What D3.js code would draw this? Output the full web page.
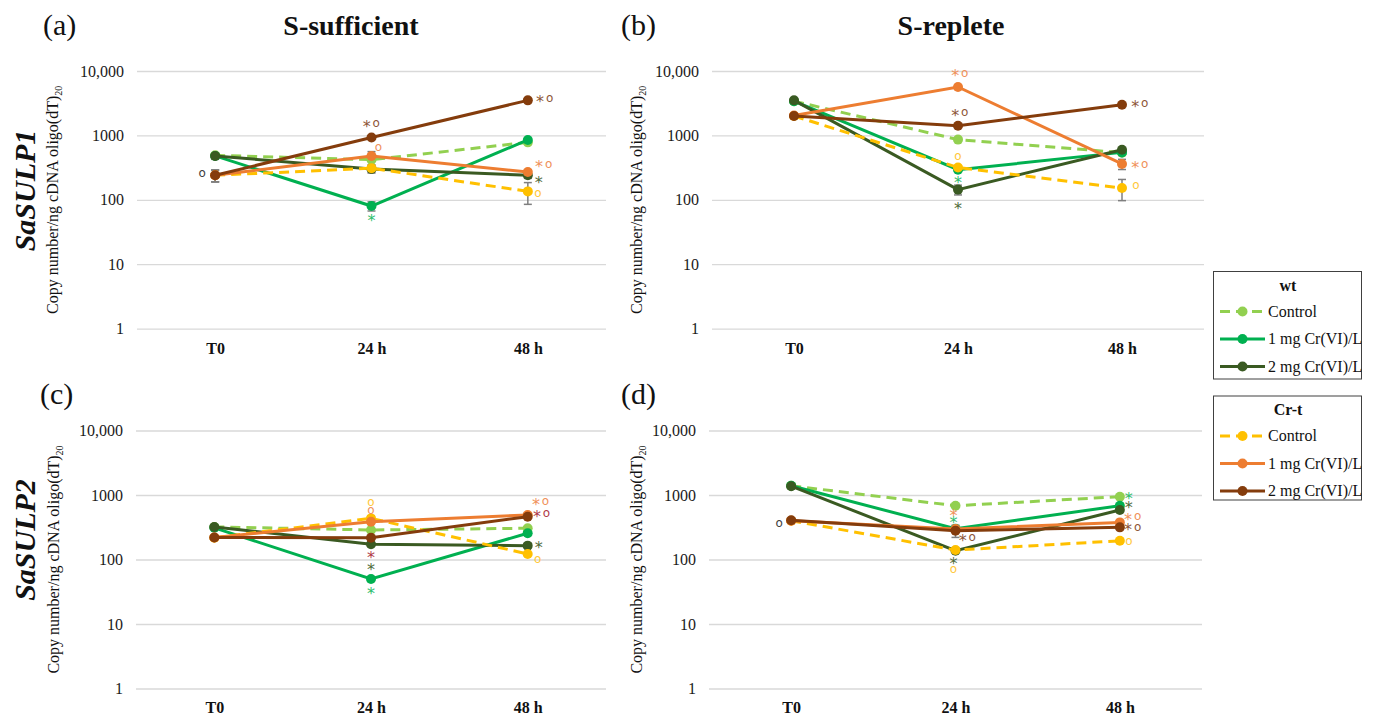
<!DOCTYPE html>
<html>
<head>
<meta charset="utf-8">
<style>
  body { margin: 0; background: #fff; }
  svg, svg text { font-family: "Liberation Serif", "Times New Roman", serif; }
  svg text.mark { font-family: "DejaVu Sans", sans-serif; }
</style>
</head>
<body>
<svg></svg>
<script src="https://d3js.org/d3.v7.min.js"></script>
<script>
const width = 1373;
const height = 718;

const timeLabels = ["T0", "24 h", "48 h"];
const yTickValues = [1, 10, 100, 1000, 10000];
const strainLabels = ["wt", "Cr-t"];
const doseLabels = ["Control", "1 mg Cr(VI)/L", "2 mg Cr(VI)/L"];
const conditionTitles = ["S-sufficient", "S-replete"];
const geneLabels = ["SaSULP1", "SaSULP2"];
const panelLetters = ["(a)", "(b)", "(c)", "(d)"];

// series order: wt Control, wt 1 mg, wt 2 mg, Cr-t Control, Cr-t 1 mg, Cr-t 2 mg
const sulp1Sufficient = [[490, 420, 780], [480, 80, 850], [480, 300, 240], [240, 310, 135], [240, 480, 270], [240, 930, 3500]];
const sulp1Replete = [[3400, 860, 540], [3400, 293, 545], [3500, 144, 600], [2000, 318, 152], [2040, 5650, 360], [2000, 1410, 3000]];
const sulp2Sufficient = [[320, 287, 305], [310, 50, 255], [320, 172, 164], [218, 434, 122], [220, 386, 490], [220, 218, 461]];
const sulp2Replete = [[1390, 682, 942], [1390, 300, 682], [1370, 137, 585], [400, 140, 195], [400, 297, 376], [405, 280, 315]];

// standard deviations (0 = no visible bar)
const sulp1SufficientErr = [[0, 0, 0], [0, 13, 0], [55, 40, 25], [50, 40, 50], [50, 80, 20], [50, 0, 0]];
const sulp1RepleteErr = [[0, 0, 0], [0, 0, 0], [0, 25, 0], [0, 0, 55], [0, 0, 65], [0, 0, 0]];
const sulp2SufficientErr = [[0, 0, 0], [0, 0, 0], [0, 0, 15], [0, 40, 0], [0, 0, 40], [0, 0, 0]];
const sulp2RepleteErr = [[0, 0, 0], [0, 0, 0], [0, 0, 0], [0, 0, 0], [0, 0, 0], [0, 60, 0]];

// significance marks: [colour key, time index, value, text, dx]
const sulp1SufficientNotes = [
  [6, 0, 258, "o", -13], [5, 1, 1540, "*o", 0], [4, 1, 668, "o", 7], [1, 1, 53, "*", 0],
  [5, 2, 3800, "*o", 17], [4, 2, 360, "*o", 16], [2, 2, 210, "*", 11], [3, 2, 129, "o", 10]
];
const sulp1RepleteNotes = [
  [4, 1, 9400, "*o", 2], [5, 1, 2290, "*o", 2], [3, 1, 484, "o", 0], [1, 1, 208, "*", 0],
  [2, 1, 81, "*", 0], [5, 2, 3150, "*o", 18], [4, 2, 356, "*o", 18], [3, 2, 170, "o", 14]
];
const sulp2SufficientNotes = [
  [3, 1, 771, "o", 0], [4, 1, 585, "o", 0], [7, 1, 120, "*", 0], [2, 1, 79, "*", 0],
  [1, 1, 33, "*", 0], [4, 2, 807, "*o", 13], [7, 2, 520, "*o", 14], [2, 2, 168, "*", 11],
  [3, 2, 101, "o", 10]
];
const sulp2RepleteNotes = [
  [6, 0, 364, "o", -12], [4, 1, 532, "*", -2], [1, 1, 420, "*", -2], [5, 1, 221, "*o", 12],
  [2, 1, 98, "*", -2], [3, 1, 70, "o", -2], [1, 2, 965, "*", 9], [2, 2, 700, "*", 9],
  [4, 2, 472, "*o", 13], [5, 2, 323, "*o", 13], [3, 2, 196, "o", 9]
];

const lineColors = ["#92D050", "#00B050", "#3A5A22", "#FFC000", "#ED7D31", "#843C0C"];
const noteColors = ["#92D050", "#2DBE6C", "#4F6B3A", "#FFC83A", "#F0915A", "#8E5638", "#404040", "#B03A48"];
const dashed = [true, false, false, true, false, false];

const svg = d3.select("svg").attr("width", width).attr("height", height);

const panels = [
  { values: sulp1Sufficient, err: sulp1SufficientErr, notes: sulp1SufficientNotes,
    x0: 137, x1: 606, yTop: 71, yBot: 328.6, letterX: 43, letterY: 35, titleX: 58, pad: 14 },
  { values: sulp1Replete, err: sulp1RepleteErr, notes: sulp1RepleteNotes,
    x0: 712, x1: 1204, yTop: 71, yBot: 328.6, letterX: 621, letterY: 35, titleX: 642, pad: 14 },
  { values: sulp2Sufficient, err: sulp2SufficientErr, notes: sulp2SufficientNotes,
    x0: 136, x1: 606, yTop: 430.5, yBot: 688.5, letterX: 40, letterY: 404, titleX: 59, pad: 13 },
  { values: sulp2Replete, err: sulp2RepleteErr, notes: sulp2RepleteNotes,
    x0: 709, x1: 1202, yTop: 430.5, yBot: 688.5, letterX: 621, letterY: 404, titleX: 642, pad: 13 }
];

panels.forEach((p, i) => drawPanel(p, i));
drawHeaders();
drawLegend(0, 271.5, 379);
drawLegend(1, 396, 500);

function drawPanel(p, idx) {
  const g = svg.append("g");
  const x = d3.scalePoint().domain(timeLabels).range([p.x0, p.x1]).padding(0.5);
  const y = d3.scaleLog().domain([1, 10000]).range([p.yBot, p.yTop]);

  const yAxis = g.append("g")
    .attr("transform", `translate(${p.x0},0)`)
    .call(d3.axisLeft(y).tickValues(yTickValues)
      .tickSize(-(p.x1 - p.x0)).tickPadding(13)
      .tickFormat(d => d >= 10000 ? d3.format(",")(d) : d));
  yAxis.attr("font-family", null).attr("font-size", 16);
  yAxis.select(".domain").remove();
  yAxis.selectAll(".tick line").attr("stroke", "#D9D9D9").attr("stroke-width", 1.3);
  yAxis.selectAll(".tick text").attr("fill", "#1a1a1a");

  const xAxis = g.append("g")
    .attr("transform", `translate(0,${p.yBot})`)
    .call(d3.axisBottom(x).tickSize(0).tickPadding(p.pad));
  xAxis.attr("font-family", null).attr("font-size", 16).attr("font-weight", "bold");
  xAxis.select(".domain").remove();
  xAxis.selectAll(".tick text").attr("fill", "#111");

  // y title
  const cy = (p.yTop + p.yBot) / 2;
  const t = g.append("text")
    .attr("transform", `translate(${p.titleX},${cy}) rotate(-90)`)
    .attr("text-anchor", "middle")
    .attr("font-size", 16).attr("fill", "#111");
  t.append("tspan").text("Copy number/ng cDNA oligo(dT)");
  t.append("tspan").attr("dy", 4).attr("font-size", 10).text("20");

  // panel letter
  svg.append("text").attr("x", p.letterX).attr("y", p.letterY)
    .attr("font-size", 30).attr("fill", "#111").text(panelLetters[idx]);

  // error bars
  const errG = g.append("g").attr("stroke", "#7F7F7F").attr("stroke-width", 1.5);
  p.err.forEach((row, s) => row.forEach((e, k) => {
    if (!e) return;
    const v = p.values[s][k];
    const cx = x(timeLabels[k]);
    const yHi = y(v + e), yLo = y(Math.max(v - e, 1));
    errG.append("line").attr("x1", cx).attr("x2", cx).attr("y1", yHi).attr("y2", yLo);
    errG.append("line").attr("x1", cx - 4).attr("x2", cx + 4).attr("y1", yHi).attr("y2", yHi);
    errG.append("line").attr("x1", cx - 4).attr("x2", cx + 4).attr("y1", yLo).attr("y2", yLo);
  }));

  const line = d3.line().x((d, k) => x(timeLabels[k])).y(d => y(d));
  p.values.forEach((vals, s) => {
    g.append("path").datum(vals)
      .attr("d", line).attr("fill", "none")
      .attr("stroke", lineColors[s]).attr("stroke-width", 3)
      .attr("stroke-dasharray", dashed[s] ? "10,6" : null);
    g.selectAll(null).data(vals).enter().append("circle")
      .attr("cx", (d, k) => x(timeLabels[k])).attr("cy", d => y(d))
      .attr("r", 5).attr("fill", lineColors[s]);
  });

  // significance marks
  p.notes.forEach(n => {
    const [c, k, v, txt, dx] = n;
    const nx = x(timeLabels[k]) + dx;
    const ny = y(v);
    const chars = txt.split("");
    const step = 9.5;
    const start = nx - (chars.length - 1) * step / 2;
    chars.forEach((ch, j) => {
      g.append("text").attr("class", "mark")
        .attr("x", start + j * step)
        .attr("y", ch === "*" ? ny + 8.5 : ny + 4)
        .attr("text-anchor", "middle")
        .attr("font-size", ch === "*" ? 16 : 12)
        .attr("fill", noteColors[c]).text(ch);
    });
  });
}

function drawHeaders() {
  [[351, 35], [951, 35]].forEach((pos, i) => {
    svg.append("text").attr("x", pos[0]).attr("y", pos[1])
      .attr("text-anchor", "middle")
      .attr("font-size", 28).attr("font-weight", "bold").attr("fill", "#111")
      .text(conditionTitles[i]);
  });
  [190.5, 540].forEach((cy, i) => {
    svg.append("text")
      .attr("transform", `translate(35,${cy}) rotate(-90)`)
      .attr("text-anchor", "middle")
      .attr("font-size", 30).attr("font-weight", "bold").attr("font-style", "italic")
      .attr("fill", "#111").text(geneLabels[i]);
  });
}

function drawLegend(group, top, bottom) {
  const g = svg.append("g");
  g.append("rect").attr("x", 1213.5).attr("y", top).attr("width", 148).attr("height", bottom - top)
    .attr("fill", "#fff").attr("stroke", "#404040").attr("stroke-width", 1);
  g.append("text").attr("x", 1288).attr("y", top + 19)
    .attr("text-anchor", "middle").attr("font-size", 16).attr("font-weight", "bold")
    .attr("fill", "#111").text(strainLabels[group]);
  doseLabels.forEach((lab, j) => {
    const s = group * 3 + j;
    const ly = top + 40 + j * 27.5;
    g.append("line").attr("x1", 1220).attr("x2", 1265).attr("y1", ly).attr("y2", ly)
      .attr("stroke", lineColors[s]).attr("stroke-width", 3)
      .attr("stroke-dasharray", dashed[s] ? "10,6" : null);
    g.append("circle").attr("cx", 1242.5).attr("cy", ly).attr("r", 5).attr("fill", lineColors[s]);
    g.append("text").attr("x", 1268).attr("y", ly + 5)
      .attr("font-size", 16).attr("fill", "#111").text(lab);
  });
}
</script>
</body>
</html>
